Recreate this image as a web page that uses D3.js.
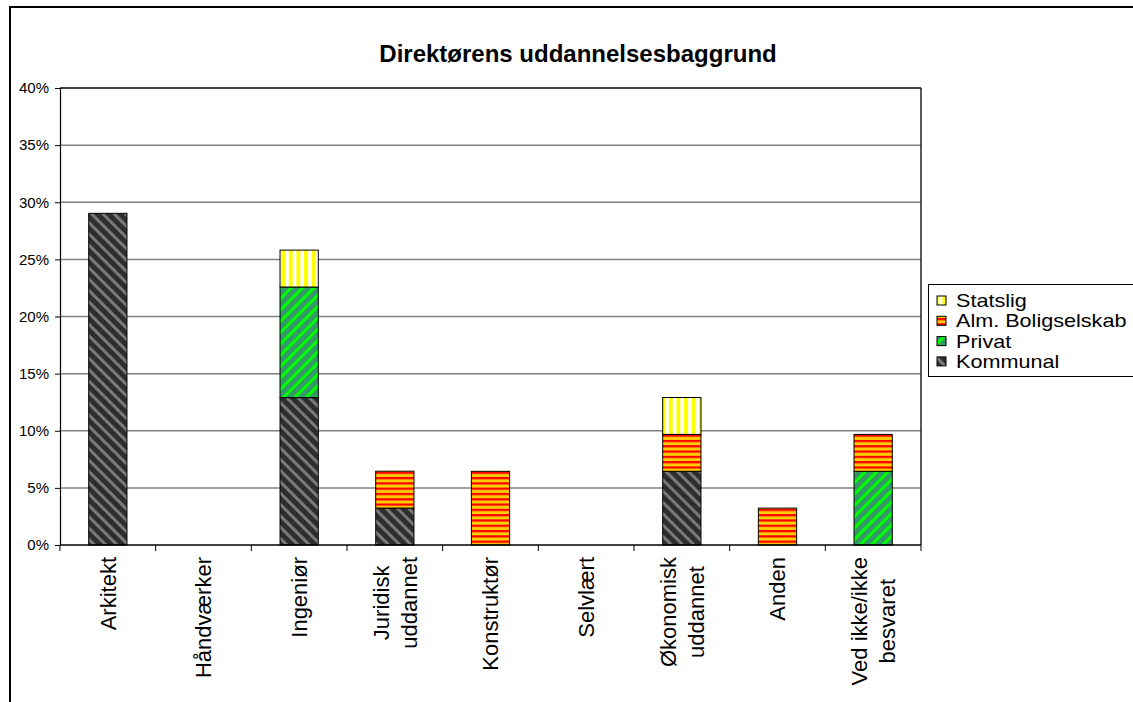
<!DOCTYPE html>
<html>
<head>
<meta charset="utf-8">
<script src="https://cdn.jsdelivr.net/npm/d3@7"></script>
<style>
  html, body { margin: 0; padding: 0; background: #fff; }
  svg { display: block; }
  text { font-family: "Liberation Sans", Arial, sans-serif; fill: #000; }
</style>
</head>
<body>
<svg id="chart" width="1133" height="702"></svg>
<script>
// ---- data ----
const title = "Direktørens uddannelsesbaggrund";
const categories = ["Arkitekt", "Håndværker", "Ingeniør", "Juridisk uddannet", "Konstruktør",
                    "Selvlært", "Økonomisk uddannet", "Anden", "Ved ikke/ikke besvaret"];
const categoryLines = [["Arkitekt"], ["Håndværker"], ["Ingeniør"], ["Juridisk", "uddannet"],
                       ["Konstruktør"], ["Selvlært"], ["Økonomisk", "uddannet"], ["Anden"],
                       ["Ved ikke/ikke", "besvaret"]];
const seriesNames = ["Kommunal", "Privat", "Alm. Boligselskab", "Statslig"];
const kommunal = [0.2903, 0, 0.1290, 0.0323, 0, 0, 0.0645, 0, 0];
const privat   = [0, 0, 0.0968, 0, 0, 0, 0, 0, 0.0645];
const almBolig = [0, 0, 0, 0.0323, 0.0645, 0, 0.0323, 0.0323, 0.0323];
const statslig = [0, 0, 0.0323, 0, 0, 0, 0.0323, 0, 0];
const yTicks = [0, 0.05, 0.10, 0.15, 0.20, 0.25, 0.30, 0.35, 0.40];

// ---- build table ----
const seriesValues = [kommunal, privat, almBolig, statslig];
const table = categories.map((c, i) => {
  const row = { category: c };
  seriesNames.forEach((s, j) => row[s] = seriesValues[j][i]);
  return row;
});

const svg = d3.select("#chart");
const defs = svg.append("defs");

// patterns
function stripePattern(id, bg, fg, size, stripeW, angle) {
  const p = defs.append("pattern").attr("id", id)
    .attr("patternUnits", "userSpaceOnUse")
    .attr("width", size).attr("height", size)
    .attr("patternTransform", `rotate(${angle})`);
  p.append("rect").attr("width", size).attr("height", size).attr("fill", bg);
  p.append("rect").attr("width", stripeW).attr("height", size).attr("fill", fg);
}
stripePattern("pKommunal", "#2e2e2e", "#7a7a7a", 8, 3, -45);
stripePattern("pPrivat", "#339966", "#00ff00", 8, 3, 45);
stripePattern("pAlm", "#ffcc00", "#ff0000", 5.3, 2.2, 90);
stripePattern("pStatslig", "#ffffff", "#ffff00", 7.6, 4, 0);
const fills = {
  "Kommunal": "url(#pKommunal)",
  "Privat": "url(#pPrivat)",
  "Alm. Boligselskab": "url(#pAlm)",
  "Statslig": "url(#pStatslig)"
};

// outer chart border
svg.append("rect").attr("x", 10).attr("y", 7).attr("width", 1200).attr("height", 800)
  .attr("fill", "none").attr("stroke", "#000").attr("stroke-width", 2);

// scales
const plot = { left: 60, right: 921, top: 88, bottom: 545 };
const x = d3.scaleBand().domain(categories).range([plot.left, plot.right])
  .paddingInner(0.6).paddingOuter(0.3);
const y = d3.scaleLinear().domain([0, 0.4]).range([plot.bottom, plot.top]);

// gridlines
svg.append("g").selectAll("line").data(yTicks.filter(d => d > 0)).join("line")
  .attr("x1", plot.left).attr("x2", plot.right)
  .attr("y1", d => y(d)).attr("y2", d => y(d))
  .attr("stroke", "#808080").attr("stroke-width", 1.5);

// plot border (top/right)
svg.append("line").attr("x1", plot.left).attr("x2", plot.right).attr("y1", plot.top).attr("y2", plot.top)
  .attr("stroke", "#222").attr("stroke-width", 1.5);
svg.append("line").attr("x1", plot.right).attr("x2", plot.right).attr("y1", plot.top).attr("y2", plot.bottom)
  .attr("stroke", "#222").attr("stroke-width", 1.5);

// bars
const stack = d3.stack().keys(seriesNames);
const stacked = stack(table);
const gBars = svg.append("g");
stacked.forEach(layer => {
  gBars.append("g").selectAll("rect")
    .data(layer.filter(d => d[1] - d[0] > 0))
    .join("rect")
    .attr("x", d => x(d.data.category))
    .attr("width", x.bandwidth())
    .attr("y", d => y(d[1]))
    .attr("height", d => y(d[0]) - y(d[1]))
    .attr("fill", fills[layer.key])
    .attr("stroke", "#000").attr("stroke-width", 1);
});

// y axis
const yAxis = d3.axisLeft(y).tickValues(yTicks).tickFormat(d3.format(".0%"))
  .tickSize(5).tickPadding(6);
const gy = svg.append("g").attr("transform", `translate(${plot.left},0)`).call(yAxis);
gy.select(".domain").attr("stroke", "#000").attr("stroke-width", 1.2);
gy.selectAll(".tick line").attr("stroke", "#000");
gy.selectAll("text").style("font-size", "15px").attr("fill", "#000")
  .style("font-family", '"Liberation Sans", Arial, sans-serif');

// x axis line
svg.append("line").attr("x1", plot.left).attr("x2", plot.right)
  .attr("y1", plot.bottom).attr("y2", plot.bottom)
  .attr("stroke", "#000").attr("stroke-width", 1.5);
// x ticks at category boundaries
const boundaries = d3.range(categories.length + 1).map(i => x.range()[0] + i * x.step());
svg.append("g").selectAll("line").data(boundaries).join("line")
  .attr("x1", d => d).attr("x2", d => d)
  .attr("y1", plot.bottom).attr("y2", plot.bottom + 6)
  .attr("stroke", "#000").attr("stroke-width", 1);

// category labels
const fs = 22, lineH = 28;
categories.forEach((c, i) => {
  const lines = categoryLines[i];
  const cx = x(c) + x.bandwidth() / 2;
  const g = svg.append("g").attr("transform", `translate(${cx},${plot.bottom + 12}) rotate(-90)`);
  const t = g.append("text").style("font-size", fs + "px").attr("text-anchor", "middle");
  lines.forEach((ln, k) => {
    t.append("tspan").attr("y", (k - (lines.length - 1) / 2) * lineH + fs * 0.36).text(ln);
  });
  let maxW = 0;
  t.selectAll("tspan").each(function () { maxW = Math.max(maxW, this.getComputedTextLength()); });
  t.selectAll("tspan").attr("x", -maxW / 2);
});

// title
svg.append("text").attr("x", 578).attr("y", 62).attr("text-anchor", "middle")
  .style("font-size", "24px").style("font-weight", "bold").text(title);

// legend
const legend = svg.append("g");
legend.append("rect").attr("x", 928.5).attr("y", 284.5).attr("width", 300).attr("height", 92)
  .attr("fill", "#fff").attr("stroke", "#000").attr("stroke-width", 1);
const legendOrder = seriesNames.slice().reverse();
legendOrder.forEach((s, k) => {
  const cy = 300.5 + k * 20.3;
  legend.append("rect").attr("x", 937).attr("y", cy - 4.5).attr("width", 9).attr("height", 9)
    .attr("fill", fills[s]).attr("stroke", "#000").attr("stroke-width", 1);
  legend.append("text").attr("transform", `translate(956,${cy + 6.5}) scale(1.2,1)`)
    .style("font-size", "18px").text(s);
});
</script>
</body>
</html>
